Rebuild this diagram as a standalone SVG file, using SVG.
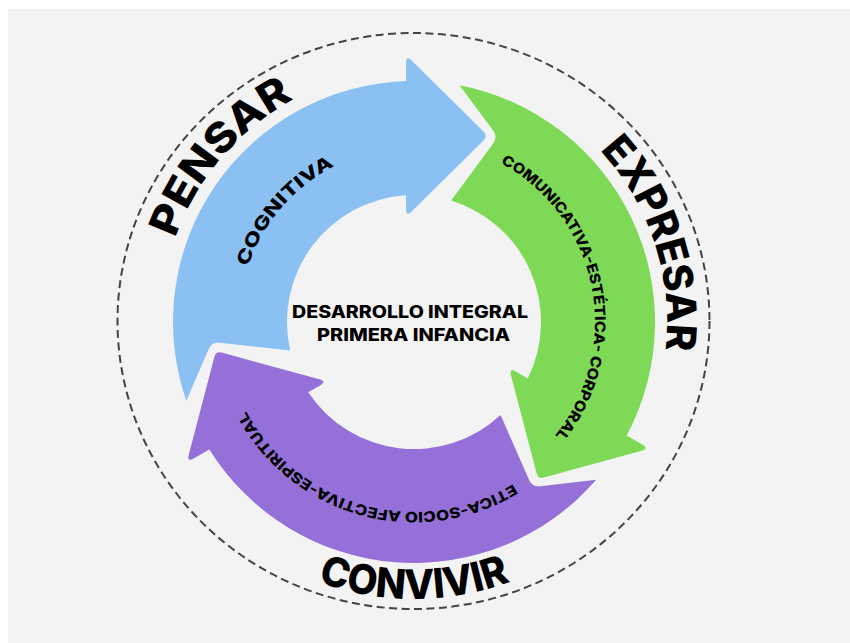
<svg xmlns="http://www.w3.org/2000/svg" xmlns:xlink="http://www.w3.org/1999/xlink" width="850" height="643" viewBox="0 0 850 643">
  <style>
    .big { font-family: Inter, "Liberation Sans", "DejaVu Sans", sans-serif; font-weight: 800; font-size: 41px; fill: #000; }
    .mid { font-family: Inter, "Liberation Sans", "DejaVu Sans", sans-serif; font-weight: 800; font-size: 18px; fill: #000; }
    .small { font-family: Inter, "Liberation Sans", "DejaVu Sans", sans-serif; font-weight: 800; font-size: 14.5px; fill: #000; }
    .center { font-family: Inter, "Liberation Sans", "DejaVu Sans", sans-serif; font-weight: 800; font-size: 17px; fill: #000; text-anchor: middle; }
  </style>
  <defs>
    <path id="arrow" d="M 186.3 400.9 A 241 241 0 0 1 406 81.1 L 406 63 Q 406 55 411.7 60.6 L 483.7 131.8 Q 488 136 483.7 140.2 L 411.7 211.4 Q 406 217 406 209 L 406 195.25 A 127 127 0 0 0 290.2 350.5 L 219.8 342.7 Q 211.8 341.8 208.6 349.2 Z"/>
    <path id="p-pensar" d="M 161.0 319.8 A 253 253 0 0 1 372.25 72.5" fill="none"/>
    <path id="p-expresar" d="M 547.3 107.0 A 253 253 0 0 1 648.9 416.0" fill="none"/>
    <path id="p-convivir" d="M 235.95 534.2 A 277 277 0 0 0 592.05 534.2" fill="none"/>
    <path id="p-cognitiva" d="M 239.0 319.86 A 175 175 0 0 1 385.7 149.3" fill="none"/>
    <path id="p-comunicativa" d="M 410.05 141.04 A 181 181 0 0 1 479.6 490.7" fill="none"/>
    <path id="p-etica" d="M 585.8 403.05 A 190 190 0 0 1 224.8 304.6" fill="none"/>
  </defs>

  <g id="background">
    <rect x="0" y="0" width="850" height="643" fill="#ffffff"/>
    <rect x="8" y="9" width="842" height="634" fill="#f3f3f3"/>
    <ellipse cx="413.5" cy="321" rx="296" ry="288" fill="none" stroke="#444444" stroke-width="2" stroke-dasharray="8 4.5"/>
  </g>

  <g id="connectors">
    <use id="arrow-cognitiva" xlink:href="#arrow" href="#arrow" fill="#8bc0f3"/>
    <use id="arrow-comunicativa" xlink:href="#arrow" href="#arrow" fill="#7ed957" transform="rotate(120 414 322)"/>
    <use id="arrow-etica" xlink:href="#arrow" href="#arrow" fill="#9670d9" transform="rotate(240 414 322)"/>
  </g>

  <g id="node-center">
    <text class="center" x="410" y="318" textLength="236" lengthAdjust="spacingAndGlyphs">DESARROLLO INTEGRAL</text>
    <text class="center" x="413.5" y="341" textLength="193" lengthAdjust="spacingAndGlyphs">PRIMERA INFANCIA</text>
  </g>

  <g id="node-pensar">
    <text class="big"><textPath xlink:href="#p-pensar" href="#p-pensar" startOffset="50%" text-anchor="middle" textLength="187" lengthAdjust="spacingAndGlyphs">PENSAR</textPath></text>
    <text class="mid"><textPath xlink:href="#p-cognitiva" href="#p-cognitiva" startOffset="50%" text-anchor="middle" textLength="136" lengthAdjust="spacingAndGlyphs">COGNITIVA</textPath></text>
  </g>

  <g id="node-expresar">
    <text class="big"><textPath xlink:href="#p-expresar" href="#p-expresar" startOffset="50%" text-anchor="middle" textLength="217" lengthAdjust="spacingAndGlyphs">EXPRESAR</textPath></text>
    <text class="small"><textPath xlink:href="#p-comunicativa" href="#p-comunicativa" startOffset="50%" text-anchor="middle" textLength="317" lengthAdjust="spacingAndGlyphs">COMUNICATIVA-ESTÉTICA- CORPORAL</textPath></text>
  </g>

  <g id="node-convivir">
    <text class="big"><textPath xlink:href="#p-convivir" href="#p-convivir" startOffset="50%" text-anchor="middle" textLength="197" lengthAdjust="spacingAndGlyphs">CONVIVIR</textPath></text>
    <text class="small"><textPath xlink:href="#p-etica" href="#p-etica" startOffset="50%" text-anchor="middle" textLength="310" lengthAdjust="spacingAndGlyphs">ETICA-SOCIO AFECTIVA-ESPIRITUAL</textPath></text>
  </g>
</svg>
